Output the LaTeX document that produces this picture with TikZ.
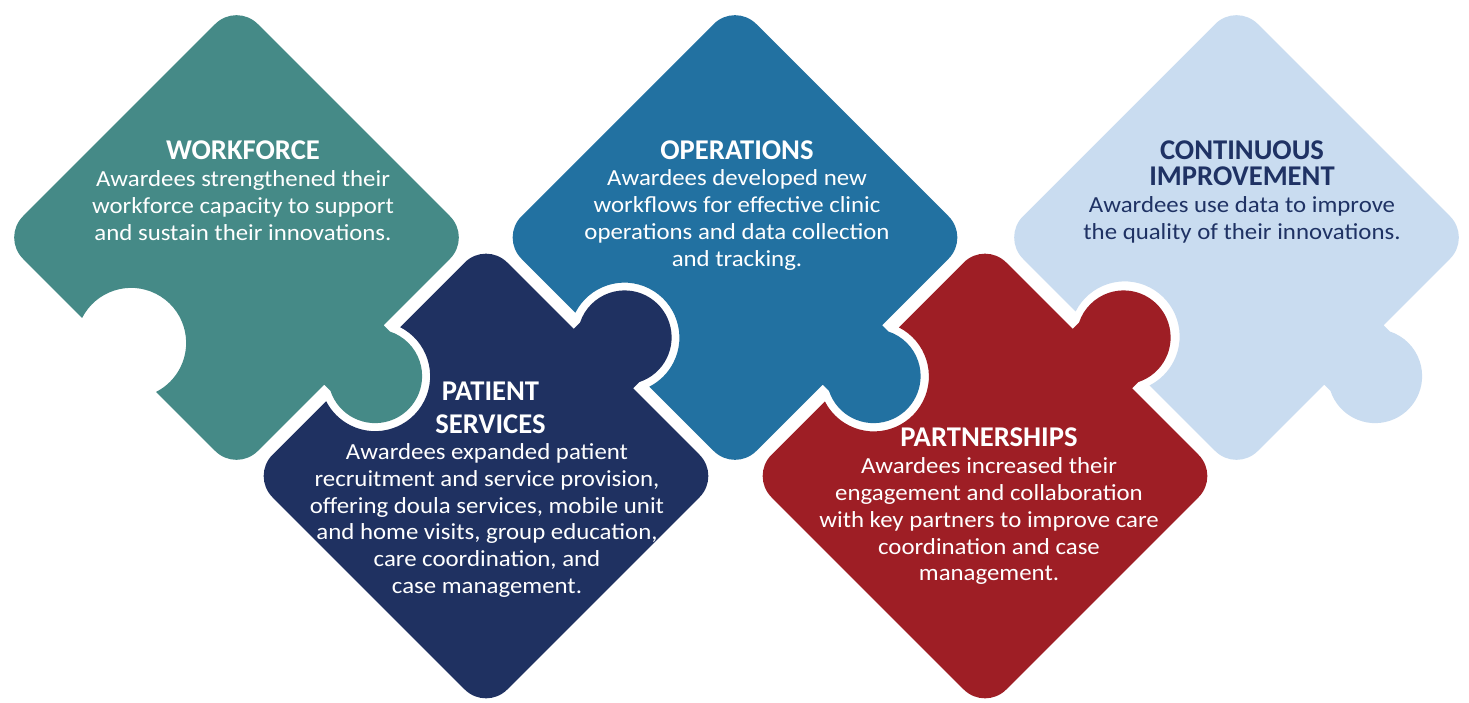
\documentclass[tikz,border=0pt]{standalone}
\usepackage{fontspec}
\setmainfont{Carlito}
\newfontfamily\piecebody[FakeStretch=1.08]{Carlito}

\definecolor{wfteal}{HTML}{458A87}
\definecolor{opblue}{HTML}{2271A1}
\definecolor{psnavy}{HTML}{1F3161}
\definecolor{ptred}{HTML}{9E1E25}
\definecolor{cilight}{HTML}{C9DCF0}
\definecolor{citext}{HTML}{1F3264}

% Upper puzzle piece: rounded square turned 45 degrees, tab on the SE side,
% socket on the SW side.  #1,#2 centre, #3 socket offset, #4 colour
\newcommand{\puzzletop}[4]{%
  \begin{scope}[shift={(#1,#2)},rotate=45]
    \fill[#4] (-136,-166) -- (-42,-166) -- (-42,-174.9)
      arc[start angle=153.3,end angle=386.7,radius=47pt] -- (42,-166)
      -- (136,-166) arc[start angle=-90,end angle=0,radius=30pt]
      -- (166,136) arc[start angle=0,end angle=90,radius=30pt]
      -- (-136,166) arc[start angle=90,end angle=180,radius=30pt]
      -- (-166,{#3+52.3}) arc[start angle=108,end angle=-108,radius=55pt]
      -- (-166,-136) arc[start angle=180,end angle=270,radius=30pt] -- cycle;
  \end{scope}}

% Lower puzzle piece: tab on the NE side, socket on the NW side.
\newcommand{\puzzlebottom}[4]{%
  \begin{scope}[shift={(#1,#2)},rotate=45]
    \fill[#4] (-136,-166) -- (136,-166)
      arc[start angle=-90,end angle=0,radius=30pt]
      -- (166,-42) -- (174.9,-42)
      arc[start angle=-116.7,end angle=116.7,radius=47pt] -- (166,42)
      -- (166,136) arc[start angle=0,end angle=90,radius=30pt]
      -- ({#3+52.3},166) arc[start angle=18,end angle=-198,radius=55pt]
      -- (-136,166) arc[start angle=90,end angle=180,radius=30pt]
      -- (-166,-136) arc[start angle=180,end angle=270,radius=30pt] -- cycle;
  \end{scope}}

% text blocks are placed by the baseline of their last line
\tikzset{
  headtxt/.style={font=\bfseries\fontsize{28.6}{33}\selectfont, align=center,
    anchor=base, inner sep=0pt, text=white},
  bodytxt/.style={font=\piecebody\fontsize{23}{26.7}\selectfont, align=center,
    anchor=base, inner sep=0pt, text=white}
}

\begin{document}
\begin{tikzpicture}[x=1pt,y=1pt]
  \useasboundingbox (0,0) rectangle (1469,-702);
  \fill[white] (0,0) rectangle (1469,-702);

  % pieces
  \puzzletop{236.5}{-237.5}{0}{wfteal}
  \puzzletop{735}{-237.5}{7.42}{opblue}
  \puzzletop{1236.5}{-237.5}{9.19}{cilight}
  \puzzlebottom{486}{-476}{-7.78}{psnavy}
  \puzzlebottom{985}{-476}{-8.13}{ptred}

  % workforce
  \node[headtxt] (wfhead) at (243,-159) {WORKFORCE};
  \node[bodytxt] (wfbody) at (243,-240) {Awardees strengthened their\\workforce capacity to support\\and sustain their innovations.};

  % operations
  \node[headtxt] (ophead) at (737,-159) {OPERATIONS};
  \node[bodytxt] (opbody) at (737,-266) {Awardees developed new\\workflows for effective clinic\\operations and data collection\\and tracking.};

  % continuous improvement
  \node[headtxt, text=citext, font=\bfseries\fontsize{28.6}{26}\selectfont] (cihead) at (1242,-185) {CONTINUOUS\\IMPROVEMENT};
  \node[bodytxt, text=citext] (cibody) at (1242,-239) {Awardees use data to improve\\the quality of their innovations.};

  % patient services
  \node[headtxt] (pshead) at (490.5,-433.3) {PATIENT\\SERVICES};
  \node[bodytxt] (psbody) at (487,-593.3) {Awardees expanded patient\\recruitment and service provision,\\offering doula services, mobile unit\\and home visits, group education,\\care coordination, and\\case management.};

  % partnerships
  \node[headtxt] (pthead) at (989,-446.7) {PARTNERSHIPS};
  \node[bodytxt] (ptbody) at (989,-580.7) {Awardees increased their\\engagement and collaboration\\with key partners to improve care\\coordination and case\\management.};
\end{tikzpicture}
\end{document}
